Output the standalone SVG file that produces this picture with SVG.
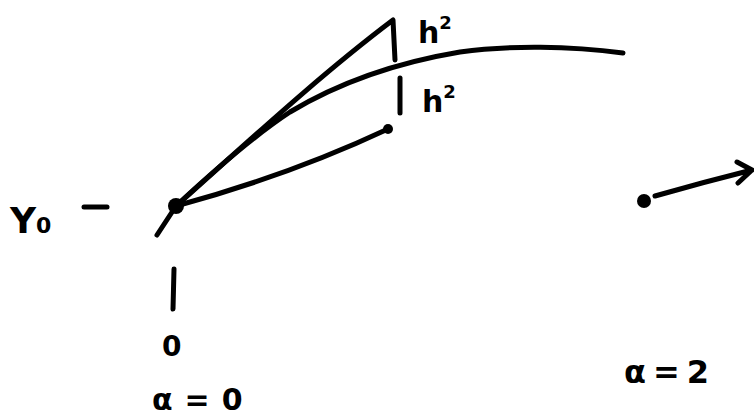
<svg xmlns="http://www.w3.org/2000/svg" width="754" height="416" viewBox="0 0 754 416">
<style>
.s{fill:none;stroke:#000;stroke-width:5;stroke-linecap:round;stroke-linejoin:round}
.t{font-family:"DejaVu Sans",sans-serif;font-weight:bold;fill:#000}
</style>
<rect width="754" height="416" fill="#fff"/>
<g id="connectors">
<path class="s" d="M176,206 C220,165 255,135 290,112 C340,82 400,62 460,52 C510,45 570,46 623,53"/>
<path class="s" d="M176,206 C250,140 320,75 393,20 L395,60"/>
<path class="s" d="M400,78 L400,113"/>
<path class="s" d="M176,206 Q290,175 388,129"/>
<path class="s" d="M176,206 L157,235"/>
<path class="s" d="M84,207 L107,207"/>
<path class="s" d="M174,269 L173,309"/>
<path class="s" d="M655,196 C690,186 720,178 752,170 M737,162 L752,170 L738,183"/>
</g>
<g id="node-origin"><circle cx="176" cy="206" r="8"/></g>
<g id="node-mid"><circle cx="388" cy="129" r="5"/></g>
<g id="node-right"><circle cx="644" cy="201" r="7"/></g>
<g id="labels">
<text class="t" x="10" y="233" font-size="36" font-weight="normal">Y<tspan font-size="22" font-weight="bold">0</tspan></text>
<text class="t" x="418" y="43" font-size="30">h<tspan font-size="18" dy="-14">2</tspan></text>
<text class="t" x="422" y="112" font-size="30">h<tspan font-size="18" dy="-14">2</tspan></text>
<text class="t" x="162" y="356" font-size="28">0</text>
<text class="t" x="152" y="410" font-size="30" letter-spacing="12">α=0</text>
<text class="t" x="624" y="383" font-size="32" letter-spacing="7">α=2</text>
</g>
</svg>
